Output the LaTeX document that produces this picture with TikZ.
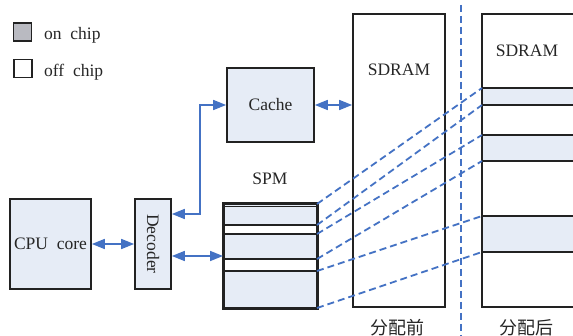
\documentclass[tikz,border=0pt]{standalone}
\usepackage{fontspec}
\setmainfont{Liberation Serif}
\newfontfamily\cjk{Noto Sans CJK SC}
\usetikzlibrary{arrows.meta,calc}
\definecolor{chipfill}{HTML}{E6ECF6}
\definecolor{legendgray}{HTML}{B9BAC1}
\definecolor{linkblue}{HTML}{4472C4}
\definecolor{edge}{HTML}{222222}
\begin{document}
\begin{tikzpicture}[x=1pt,y=-1pt,
  every node/.style={font=\fontsize{17.5}{20}\selectfont, inner sep=0pt, text=black!85},
  block/.style={draw=edge, line width=1.7pt, fill=chipfill},
  plain/.style={draw=edge, line width=1.7pt, fill=white},
  legendbox/.style={draw=edge, line width=1.8pt, minimum width=18pt, minimum height=18pt},
  link/.style={draw=linkblue, line width=1.6pt,
    {Triangle[length=13pt,width=10pt]}-{Triangle[length=13pt,width=10pt]}},
  mapline/.style={draw=linkblue, line width=1.8pt, dash pattern=on 7pt off 4pt},
  bandline/.style={draw=edge, line width=1.7pt}]
\clip (0,0) rectangle (573,336);
\fill[white] (0,0) rectangle (573,336);

% legend
\node[legendbox, fill=legendgray] (lg1) at (22.5,32) {};
\node[anchor=base west] (lt1) at (44,40) {on\ \ chip};
\node[legendbox, fill=white] (lg2) at (23,68.5) {};
\node[anchor=base west] (lt2) at (44,77) {off\ \ chip};

% processor side
\node[block, minimum width=81pt, minimum height=90pt] (cpu) at (50.5,244) {CPU\ \ core};
\node[block, minimum width=36pt, minimum height=90pt] (dec) at (153,244) {};
\node[rotate=-90] (dect) at (dec.center) {Decoder};
\node[block, minimum width=87pt, minimum height=74pt] (cache) at (270.5,105) {Cache};

% scratch-pad memory with its segments
\node (spmt) at (270,179) {SPM};
\node[block, line width=2pt, minimum width=93pt, minimum height=104pt] (spm) at (270.5,256) {};
\fill[white] (225,225) rectangle (316,234);
\fill[white] (225,259) rectangle (316,271);
\draw[bandline] (224,206.5) -- (317,206.5);
\draw[bandline] (224,225) -- (317,225);
\draw[bandline] (224,234) -- (317,234);
\draw[bandline] (224,259) -- (317,259);
\draw[bandline] (224,271) -- (317,271);
\draw[edge, line width=2pt] (spm.north west) rectangle (spm.south east);

% SDRAM before allocation
\node[plain, minimum width=92pt, minimum height=293pt] (sd1) at (399,160.5) {};
\node (sd1t) at (399,70) {SDRAM};
\node (sd1c) at (397,328) {\cjk\fontsize{18}{20}\selectfont 分配前};

% separator
\coordinate (sepa) at (461,5);
\coordinate (sepb) at (461,336);
\draw[mapline] (sepa) -- (sepb);

% SDRAM after allocation
\draw[plain] (482,14) rectangle (590,307);
\fill[chipfill] (482,88) rectangle (590,105);
\fill[chipfill] (482,135) rectangle (590,161);
\fill[chipfill] (482,216) rectangle (590,252);
\foreach \yy in {88,105,135,161,216,252}
  \draw[bandline] (482,\yy) -- (590,\yy);
\draw[edge, line width=1.7pt] (482,14) rectangle (590,307);
\node (sd2t) at (527,51) {SDRAM};
\node (sd2c) at (526,328) {\cjk\fontsize{18}{20}\selectfont 分配后};

% segment mapping
\coordinate (s1) at (317,204);
\coordinate (s2) at (317,225);
\coordinate (s3) at (317,234);
\coordinate (s4) at (317,259);
\coordinate (s5) at (317,271);
\coordinate (s6) at (317,308);
\coordinate (r1) at (482,88);
\coordinate (r2) at (482,105);
\coordinate (r3) at (482,135);
\coordinate (r4) at (482,161);
\coordinate (r5) at (482,216);
\coordinate (r6) at (482,252);
\foreach \i in {1,...,6}
  \draw[mapline] (s\i) -- (r\i);

% buses
\draw[link] (cpu.east) -- (dec.west);
\draw[link] ([yshift=-12pt]dec.east) -- (spm.west);
\coordinate (bend) at (200,214);
\draw[link] ([yshift=30pt]dec.east) -- (bend) |- (cache.west);
\draw[link] (cache.east) -- (cache.east -| sd1.west);
\end{tikzpicture}
\end{document}
